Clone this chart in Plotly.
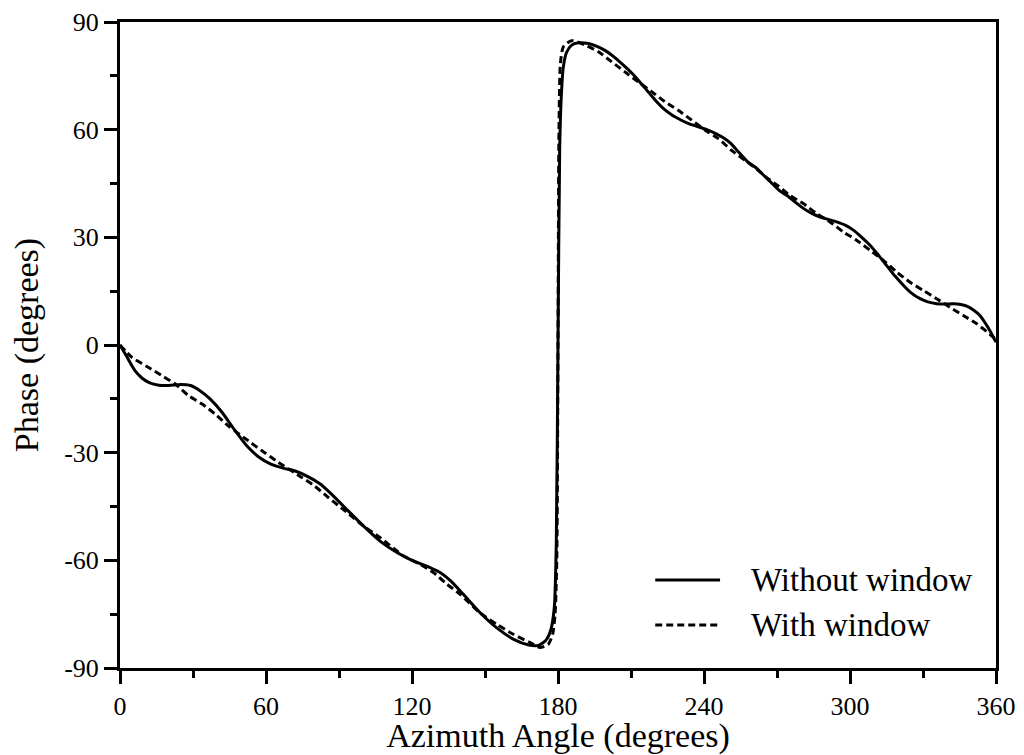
import plotly.graph_objects as go

# ---- data ----
angle_without = [0, 3, 6, 9, 12, 16, 20, 25, 29, 33, 37, 42, 47, 52, 57, 62, 67, 72, 77, 82, 87,
                 93, 100, 107, 114, 120, 127, 132, 136, 141, 148, 155, 162, 168, 172, 175, 177,
                 178.5, 179.3, 180.0, 180.7, 181.4, 182.2, 183.5, 185.5, 188.5, 192.5, 196,
                 199.3, 203, 206.2, 210, 213, 216.5, 220, 223.5, 227, 230.5, 234, 240.4, 244,
                 247.3, 251, 254, 258, 261, 264.5, 268, 271, 274, 277.5, 281, 284.5, 288, 291,
                 294.5, 298, 301.4, 304.5, 308.2, 311.5, 315, 318.5, 322, 325, 328.8, 332,
                 335.6, 339, 342.5, 345.5, 348, 351, 353.4, 355.5, 357.5, 360]
phase_without = [0, -3.5, -7.0, -9.2, -10.5, -11.2, -11.3, -11.0, -11.3, -12.8, -15.0, -18.8,
                 -23.6, -28.0, -31.2, -33.2, -34.3, -35.1, -36.6, -38.6, -41.6, -45.7, -50.4,
                 -54.7, -57.9, -60.0, -61.9, -63.6, -65.8, -69.4, -74.6, -78.9, -82.1, -83.6,
                 -83.7, -82.3, -79.5, -73.0, -55.0, 0.0, 55.0, 70.0, 77.5, 81.5, 83.5, 84.2,
                 84.0, 83.2, 82.1, 80.3, 78.4, 76.0, 73.8, 71.0, 68.2, 65.8, 64.0, 62.7, 61.6,
                 60.2, 59.2, 58.0, 56.2, 53.9, 51.0, 49.6, 47.3, 45.0, 43.0, 41.7, 39.8, 38.0,
                 36.6, 35.6, 35.0, 34.3, 33.4, 32.0, 30.2, 27.8, 25.2, 22.2, 19.2, 16.6, 14.6,
                 12.9, 12.0, 11.5, 11.4, 11.5, 11.3, 10.8, 9.6, 8.2, 6.2, 4.0, 0.8]

angle_with = [0, 4.8, 11.6, 17.1, 22.6, 28.1, 33.6, 39, 44.5, 52.7, 58.2, 65.1, 74.7, 80, 85.6,
              93, 100, 106.8, 116.4, 123.3, 128.8, 134.3, 139.7, 147.9, 154.8, 161.6, 168.5,
              172.6, 176, 177.8, 178.8, 179.5, 180, 180.4, 181, 182.2, 185.6, 191.1, 196.6,
              202.1, 207.5, 213, 218.5, 223.9, 229.4, 234.9, 240.4, 245.9, 251.2, 256.8, 262.3,
              266, 270.5, 275.3, 280.8, 286.3, 291.8, 297.3, 302.7, 308.2, 313.7, 319.2, 324.7,
              330.1, 335.6, 341.1, 346.6, 352.1, 358.9, 360]
phase_with = [0, -3.4, -6.2, -8.5, -10.8, -14.1, -16.4, -19.2, -22.5, -26.7, -29.4, -32.7, -36.9,
              -39.3, -42.5, -46.5, -50.4, -53.6, -58.7, -61.1, -63.4, -66.6, -69.4, -74.6, -77.8,
              -80.6, -82.9, -84.3, -83.4, -80.6, -75.0, -60.0, 0.0, 60.0, 78.5, 83.1, 84.8, 83.6,
              81.7, 78.9, 76.1, 73.3, 70.6, 67.8, 65.4, 62.7, 59.9, 57.5, 54.3, 51.5, 48.7, 46.5,
              44.3, 41.7, 39.4, 36.6, 34.3, 31.5, 29.2, 26.4, 23.6, 20.3, 17.5, 15.2, 12.9, 10.5,
              8.2, 5.9, 2.2, 1.5]

x_ticks = [0, 60, 120, 180, 240, 300, 360]
y_ticks = [-90, -60, -30, 0, 30, 60, 90]
series_names = ["Without window", "With window"]

FONT = "Liberation Serif, Times New Roman, serif"
DASH = "7px,4px"

fig = go.Figure()
fig.add_trace(go.Scatter(x=angle_without, y=phase_without, mode="lines",
                         name=series_names[0], showlegend=False,
                         line=dict(color="black", width=3, shape="spline", smoothing=0.6)))
fig.add_trace(go.Scatter(x=angle_with, y=phase_with, mode="lines",
                         name=series_names[1], showlegend=False,
                         line=dict(color="black", width=3, dash=DASH, shape="spline", smoothing=0.6)))

# manual legend (paper coordinates)
leg_x0, leg_x1, txt_x = 0.611, 0.685, 0.718
leg_y = [0.1362, 0.0666]
dashes = ["solid", DASH]
for name, yy, d in zip(series_names, leg_y, dashes):
    fig.add_shape(type="line", xref="paper", yref="paper", x0=leg_x0, x1=leg_x1, y0=yy, y1=yy,
                  line=dict(color="black", width=3, dash=d))
    fig.add_annotation(xref="paper", yref="paper", x=txt_x, y=yy, text=name, showarrow=False,
                       xanchor="left", yanchor="middle",
                       font=dict(family=FONT, size=33, color="black"))

axis_common = dict(showline=True, linecolor="black", linewidth=3, mirror=True,
                   ticks="outside", ticklen=13, tickwidth=3, tickcolor="black",
                   showgrid=False, zeroline=False, automargin=False,
                   tickfont=dict(family=FONT, size=26, color="black"))

fig.update_xaxes(range=[0, 360], tickvals=x_ticks, ticktext=[str(v) for v in x_ticks],
                 minor=dict(ticks="outside", ticklen=7, tickwidth=3, tickcolor="black",
                            tickvals=[30, 90, 150, 210, 270, 330]),
                 title=dict(text="Azimuth Angle (degrees)", standoff=4,
                            font=dict(family=FONT, size=34, color="black")),
                 **axis_common)
fig.update_yaxes(range=[-90, 90], tickvals=y_ticks, ticktext=[str(v) for v in y_ticks],
                 minor=dict(ticks="outside", ticklen=7, tickwidth=3, tickcolor="black",
                            tickvals=[-75, -45, -15, 15, 45, 75]),
                 title=dict(text="Phase (degrees)", standoff=16,
                            font=dict(family=FONT, size=34, color="black")),
                 **axis_common)

fig.update_layout(width=1024, height=755, autosize=False,
                  margin=dict(l=120, r=28, t=22, b=87),
                  paper_bgcolor="white", plot_bgcolor="white",
                  font=dict(family=FONT, color="black"))

fig.write_html("out.html", config={"displayModeBar": False},
               post_script="document.body.style.margin='0';document.body.style.padding='0';"
                           "document.body.style.overflow='hidden';")
